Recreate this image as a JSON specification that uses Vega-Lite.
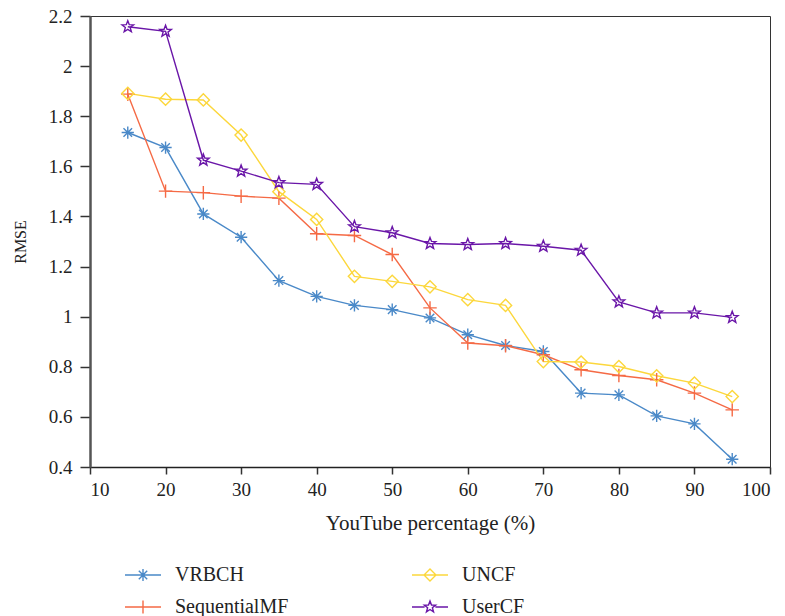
{
  "$schema": "https://vega.github.io/schema/vega-lite/v6.json",
  "width": 680,
  "height": 451,
  "autosize": {"type": "none"},
  "padding": {"left": 90, "top": 16, "right": 15, "bottom": 149},
  "config": {
    "font": "Liberation Serif",
    "view": {"stroke": "#333", "strokeWidth": 1},
    "axis": {"grid": false, "labelFont": "Liberation Serif", "titleFont": "Liberation Serif", "labelFontSize": 19, "titleFontSize": 21, "titleFontWeight": "normal", "labelColor": "#222", "titleColor": "#222", "tickColor": "#333", "domainColor": "#444"}
  },
  "data": {"values": [
    {"x":15,"series":"VRBCH","rmse":1.735},{"x":20,"series":"VRBCH","rmse":1.675},{"x":25,"series":"VRBCH","rmse":1.41},{"x":30,"series":"VRBCH","rmse":1.317},{"x":35,"series":"VRBCH","rmse":1.144},{"x":40,"series":"VRBCH","rmse":1.081},{"x":45,"series":"VRBCH","rmse":1.045},{"x":50,"series":"VRBCH","rmse":1.028},{"x":55,"series":"VRBCH","rmse":0.995},{"x":60,"series":"VRBCH","rmse":0.928},{"x":65,"series":"VRBCH","rmse":0.885},{"x":70,"series":"VRBCH","rmse":0.861},{"x":75,"series":"VRBCH","rmse":0.695},{"x":80,"series":"VRBCH","rmse":0.688},{"x":85,"series":"VRBCH","rmse":0.604},{"x":90,"series":"VRBCH","rmse":0.572},{"x":95,"series":"VRBCH","rmse":0.431},
    {"x":15,"series":"SequentialMF","rmse":1.888},{"x":20,"series":"SequentialMF","rmse":1.501},{"x":25,"series":"SequentialMF","rmse":1.495},{"x":30,"series":"SequentialMF","rmse":1.481},{"x":35,"series":"SequentialMF","rmse":1.473},{"x":40,"series":"SequentialMF","rmse":1.331},{"x":45,"series":"SequentialMF","rmse":1.324},{"x":50,"series":"SequentialMF","rmse":1.248},{"x":55,"series":"SequentialMF","rmse":1.035},{"x":60,"series":"SequentialMF","rmse":0.895},{"x":65,"series":"SequentialMF","rmse":0.884},{"x":70,"series":"SequentialMF","rmse":0.848},{"x":75,"series":"SequentialMF","rmse":0.788},{"x":80,"series":"SequentialMF","rmse":0.765},{"x":85,"series":"SequentialMF","rmse":0.748},{"x":90,"series":"SequentialMF","rmse":0.695},{"x":95,"series":"SequentialMF","rmse":0.628},
    {"x":15,"series":"UNCF","rmse":1.891},{"x":20,"series":"UNCF","rmse":1.868},{"x":25,"series":"UNCF","rmse":1.865},{"x":30,"series":"UNCF","rmse":1.725},{"x":35,"series":"UNCF","rmse":1.499},{"x":40,"series":"UNCF","rmse":1.388},{"x":45,"series":"UNCF","rmse":1.161},{"x":50,"series":"UNCF","rmse":1.141},{"x":55,"series":"UNCF","rmse":1.119},{"x":60,"series":"UNCF","rmse":1.068},{"x":65,"series":"UNCF","rmse":1.045},{"x":70,"series":"UNCF","rmse":0.821},{"x":75,"series":"UNCF","rmse":0.819},{"x":80,"series":"UNCF","rmse":0.801},{"x":85,"series":"UNCF","rmse":0.764},{"x":90,"series":"UNCF","rmse":0.735},{"x":95,"series":"UNCF","rmse":0.681},
    {"x":15,"series":"UserCF","rmse":2.157},{"x":20,"series":"UserCF","rmse":2.139},{"x":25,"series":"UserCF","rmse":1.625},{"x":30,"series":"UserCF","rmse":1.581},{"x":35,"series":"UserCF","rmse":1.535},{"x":40,"series":"UserCF","rmse":1.528},{"x":45,"series":"UserCF","rmse":1.359},{"x":50,"series":"UserCF","rmse":1.335},{"x":55,"series":"UserCF","rmse":1.292},{"x":60,"series":"UserCF","rmse":1.288},{"x":65,"series":"UserCF","rmse":1.292},{"x":70,"series":"UserCF","rmse":1.281},{"x":75,"series":"UserCF","rmse":1.265},{"x":80,"series":"UserCF","rmse":1.059},{"x":85,"series":"UserCF","rmse":1.015},{"x":90,"series":"UserCF","rmse":1.015},{"x":95,"series":"UserCF","rmse":0.997}
  ]},
  "encoding": {
    "x": {"field": "x", "type": "quantitative", "scale": {"domain": [10, 100], "nice": false}, "axis": {"values": [10,20,30,40,50,60,70,80,90,100], "title": "YouTube percentage (%)", "tickSize": 7, "labelPadding": 6, "titlePadding": 13, "domainColor": "#222", "domainWidth": 1.5, "tickWidth": 1.5}},
    "y": {"field": "rmse", "type": "quantitative", "scale": {"domain": [0.4, 2.2], "nice": false, "zero": false}, "axis": {"values": [0.4,0.6,0.8,1,1.2,1.4,1.6,1.8,2,2.2], "format": ".1~f", "title": "RMSE", "titleFontSize": 16, "tickSize": 10, "labelPadding": 8, "titlePadding": 20, "domainColor": "#555", "domainWidth": 2.5, "tickWidth": 1.5}}
  },
  "layer": [
    {"mark": {"type": "line", "strokeWidth": 1.4},
     "encoding": {"stroke": {"field": "series", "type": "nominal", "scale": {"domain": ["VRBCH", "SequentialMF", "UNCF", "UserCF"], "range": ["#4a89c8", "#f56a45", "#fcd73c", "#6a16a8"]}, "legend": null}}},
    {"mark": {"type": "point", "filled": false, "size": 150, "strokeWidth": 1.4, "opacity": 1},
     "encoding": {
       "stroke": {"field": "series", "type": "nominal", "legend": null},
       "shape": {"field": "series", "type": "nominal", "scale": {"domain": ["VRBCH", "SequentialMF", "UNCF", "UserCF"], "range": [
       "M-1,0L1,0M0,-1L0,1M-0.7,-0.7L0.7,0.7M-0.7,0.7L0.7,-0.7",
       "M-1.1,0L1.1,0M0,-1.1L0,1.1",
       "M0,-1L1,0L0,1L-1,0Z",
       "M0,-1L0.247,-0.34L0.951,-0.309L0.399,0.13L0.588,0.809L0,0.42L-0.588,0.809L-0.399,0.13L-0.951,-0.309L-0.247,-0.34Z"
     ]}, "legend": null}}},
    {"mark": {"type": "point", "filled": false, "size": 144, "strokeWidth": 1.4, "opacity": 0},
     "encoding": {
       "color": {"field": "series", "type": "nominal", "scale": {"domain": ["VRBCH", "SequentialMF", "UNCF", "UserCF"], "range": ["#4a89c8", "#f56a45", "#fcd73c", "#6a16a8"]}, "legend": {"title": null, "orient": "none", "legendX": 43, "legendY": 549, "columns": 2, "direction": "vertical", "columnPadding": 120, "rowPadding": 12, "padding": 0, "symbolSize": 144, "symbolStrokeWidth": 1.4, "labelOffset": 22, "labelFont": "Liberation Serif", "labelFontSize": 20, "labelColor": "#222"}},
       "shape": {"field": "series", "type": "nominal", "scale": {"domain": ["VRBCH", "SequentialMF", "UNCF", "UserCF"], "range": [
       "M-3,0L3,0M-1,0L1,0M0,-1L0,1M-0.7,-0.7L0.7,0.7M-0.7,0.7L0.7,-0.7",
       "M-3,0L3,0M0,-1.1L0,1.1",
       "M-3,0L3,0M0,-1L1,0L0,1L-1,0Z",
       "M-3,0L-0.9,0M0.9,0L3,0M0,-1L0.247,-0.34L0.951,-0.309L0.399,0.13L0.588,0.809L0,0.42L-0.588,0.809L-0.399,0.13L-0.951,-0.309L-0.247,-0.34Z"
     ]}, "legend": {"title": null, "orient": "none", "legendX": 43, "legendY": 549, "columns": 2, "direction": "vertical", "columnPadding": 120, "rowPadding": 12, "padding": 0, "symbolSize": 144, "symbolStrokeWidth": 1.4, "labelOffset": 22, "labelFont": "Liberation Serif", "labelFontSize": 20, "labelColor": "#222"}}}}
  ],
  "resolve": {"scale": {"shape": "independent", "color": "independent"}}
}
